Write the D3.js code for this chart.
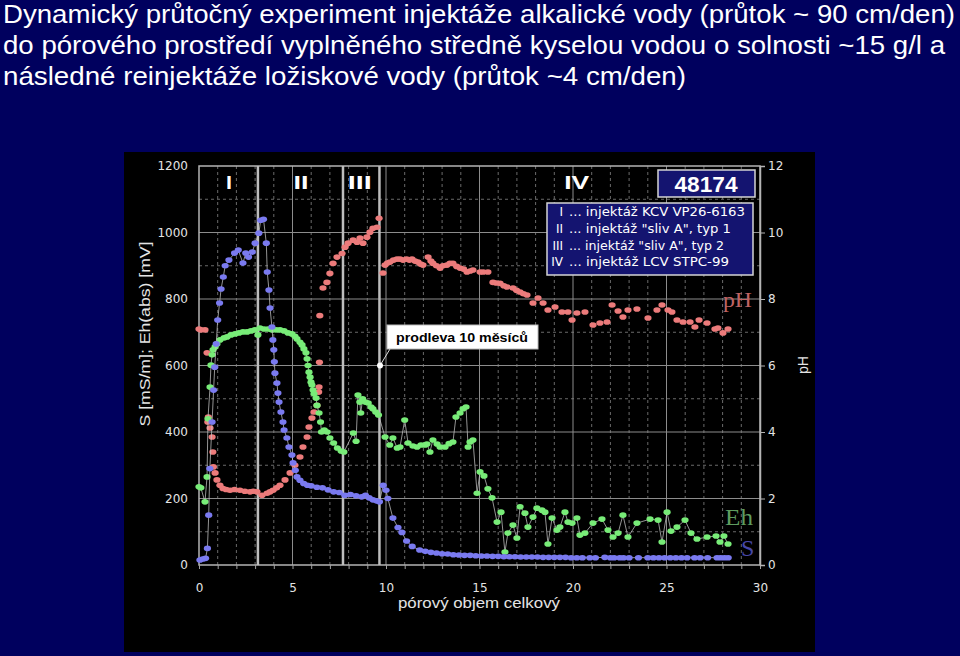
<!DOCTYPE html>
<html><head><meta charset="utf-8">
<script src="https://cdn.jsdelivr.net/npm/d3@7"></script>
<style>body{margin:0;background:#00005e}svg{display:block}</style>
</head><body><svg id="c" width="960" height="656"></svg>
<script>
// ---------- data ----------
const titleLines = [
  "Dynamický průtočný experiment injektáže alkalické vody (průtok ~ 90 cm/den)",
  "do pórového prostředí vyplněného středně kyselou vodou o solnosti ~15 g/l a",
  "následné reinjektáže ložiskové vody (průtok ~4 cm/den)"
];
const xTicks = [0,5,10,15,20,25,30];
const yTicks = [0,200,400,600,800,1000,1200];
const phTicks = [0,2,4,6,8,10,12];
const phaseBounds = [3.15, 7.7, 9.65];
const phaseLabels = ["I","II","III","IV"];
const phaseLabelX = [1.6, 5.45, 8.6, 20.2];
const legendRoman = ["I","II","III","IV"];
const legendText = ["... injektáž KCV VP26-6163", "... injektáž \"sliv A\", typ 1", "... injektáž \"sliv A\", typ 2", "... injektáž LCV STPC-99"];
const sampleId = "48174";
const pauseNote = "prodleva 10 měsíců";
const pausePoint = [9.68, 600];

// S [mS/m] (blue)
const seriesS = [[0.05,15],[0.2,18],[0.35,20],[0.45,50],[0.52,150],[0.58,290],[0.7,430],[0.78,526],[0.84,595],[0.92,665],[1.0,737],[1.1,788],[1.18,830],[1.3,866],[1.4,900],[1.6,917],[1.9,938],[2.1,947],[2.35,908],[2.5,938],[2.65,926],[2.85,941],[3.0,968],[3.2,998],[3.3,1037],[3.45,1040],[3.6,968],[3.65,881],[3.74,827],[3.8,773],[3.9,716],[3.95,677],[4.0,647],[4.03,611],[4.06,577],[4.17,547],[4.22,517],[4.28,490],[4.38,460],[4.49,430],[4.55,406],[4.7,382],[4.81,355],[4.97,331],[5.03,307],[5.15,285],[5.24,265],[5.4,255],[5.6,245],[5.8,240],[6.0,238],[6.3,234],[6.6,232],[6.9,226],[7.2,220],[7.5,218],[7.8,210],[8.1,212],[8.4,208],[8.7,205],[8.9,210],[9.1,202],[9.3,196],[9.5,193],[9.65,190],[9.85,240],[10.0,225],[10.1,200],[10.37,141],[10.64,113],[10.85,98],[11.1,72],[11.4,56],[11.8,45],[12.1,41],[12.4,38],[12.7,36],[13.0,34],[13.3,33],[13.6,31],[13.9,30],[14.2,29],[14.5,29],[14.8,28],[15.1,27],[15.4,27],[15.7,26],[16.0,26],[16.3,25],[16.6,25],[16.9,25],[17.2,24],[17.5,24],[17.8,24],[18.1,24],[18.4,23],[18.7,23],[19.0,23],[19.3,23],[19.6,23],[19.9,22],[20.2,22],[20.5,22],[20.9,22],[21.2,22],[21.7,23],[22.0,22],[22.2,22],[22.5,22],[22.7,22],[23.0,22],[23.5,22],[24.0,22],[24.3,22],[24.6,22],[24.9,22],[25.2,22],[25.5,22],[25.8,22],[26.1,22],[26.5,22],[26.8,22],[27.2,22],[27.7,22],[27.9,22],[28.1,22],[28.3,22]];

// Eh(abs) [mV] (green)
const seriesEh = [[0.0,235],[0.1,232],[0.32,190],[0.43,265],[0.48,440],[0.59,535],[0.64,601],[0.7,632],[0.75,647],[0.86,656],[0.96,665],[1.12,677],[1.34,683],[1.5,686],[1.71,692],[1.93,695],[2.14,698],[2.35,701],[2.57,701],[2.78,704],[2.99,707],[3.15,692],[3.26,713],[3.48,710],[3.69,710],[3.9,707],[4.12,707],[4.33,707],[4.55,704],[4.76,698],[4.97,695],[5.13,688],[5.24,680],[5.4,670],[5.51,662],[5.61,650],[5.72,638],[5.78,620],[5.83,600],[5.88,580],[5.94,565],[5.99,550],[6.04,541],[6.1,526],[6.15,515],[6.26,502],[6.31,480],[6.42,457],[6.5,430],[6.55,400],[6.7,406],[6.85,400],[7.0,382],[7.2,367],[7.4,352],[7.6,343],[7.75,340],[8.25,397],[8.4,372],[8.5,511],[8.6,490],[8.65,457],[8.75,500],[8.9,490],[9.05,487],[9.2,475],[9.3,470],[9.45,460],[9.6,451],[9.95,385],[10.2,361],[10.37,382],[10.6,352],[10.75,355],[11.0,436],[11.18,367],[11.44,358],[11.66,355],[11.87,361],[12.09,361],[12.19,364],[12.35,340],[12.51,376],[12.73,364],[12.89,355],[13.16,355],[13.37,365],[13.58,370],[13.74,445],[13.96,457],[14.12,470],[14.28,475],[14.39,355],[14.49,370],[14.65,376],[14.87,216],[15.03,280],[15.24,268],[15.45,229],[15.67,202],[15.94,129],[16.15,159],[16.36,39],[16.52,96],[16.79,120],[17.0,81],[17.17,175],[17.43,156],[17.59,114],[17.86,144],[18.07,171],[18.34,165],[18.5,159],[18.66,63],[18.88,141],[19.14,105],[19.3,114],[19.57,159],[19.73,129],[19.95,126],[20.21,141],[20.37,90],[20.64,96],[21.07,126],[21.55,138],[21.87,105],[22.14,84],[22.41,96],[22.67,150],[22.94,84],[23.42,126],[24.12,138],[24.55,135],[24.76,69],[25.03,159],[25.24,102],[25.56,114],[25.99,135],[26.31,96],[26.63,78],[27.17,84],[27.65,87],[27.86,69],[28.07,87],[28.29,63]];

// pH (red, right axis)
const seriesPH = [[0.0,7.1],[0.1,7.07],[0.32,7.07],[0.43,6.38],[0.47,4.3],[0.5,4.45],[0.59,4.12],[0.7,3.85],[0.74,3.4],[0.77,2.95],[0.86,2.77],[0.96,2.56],[1.12,2.4],[1.28,2.3],[1.45,2.27],[1.66,2.25],[1.9,2.27],[2.19,2.25],[2.45,2.22],[2.73,2.2],[2.9,2.22],[3.1,2.2],[3.37,2.1],[3.64,2.16],[3.8,2.2],[3.96,2.25],[4.15,2.32],[4.33,2.4],[4.6,2.56],[4.87,2.77],[5.13,3.0],[5.4,3.25],[5.56,3.55],[5.78,3.85],[5.88,4.15],[6.04,4.42],[6.15,4.6],[6.31,4.8],[6.4,5.2],[6.42,5.35],[6.44,6.1],[6.46,7.5],[6.63,8.33],[6.84,8.5],[7.0,8.77],[7.17,9.07],[7.38,9.26],[7.65,9.37],[7.81,9.56],[7.97,9.68],[8.24,9.77],[8.45,9.71],[8.61,9.83],[8.77,9.68],[8.98,9.86],[9.14,10.01],[9.3,10.13],[9.52,10.16],[9.63,10.43],[9.84,8.78],[9.95,9.02],[10.08,9.08],[10.21,9.11],[10.4,9.17],[10.59,9.2],[10.75,9.2],[10.91,9.17],[11.1,9.2],[11.25,9.17],[11.39,9.2],[11.55,9.14],[11.71,9.11],[11.85,9.05],[11.98,9.02],[12.25,9.26],[12.4,9.14],[12.51,9.07],[12.7,9.0],[12.89,8.93],[13.05,9.0],[13.26,9.02],[13.42,9.07],[13.58,9.07],[13.78,8.98],[13.96,8.93],[14.15,8.9],[14.33,8.81],[14.5,8.84],[14.65,8.87],[15.03,8.81],[15.2,8.81],[15.45,8.81],[15.72,8.5],[15.9,8.48],[16.1,8.47],[16.3,8.4],[16.47,8.36],[16.79,8.33],[16.98,8.26],[17.17,8.21],[17.35,8.16],[17.54,8.12],[17.86,7.88],[18.13,8.03],[18.4,7.88],[18.66,7.67],[19.04,7.76],[19.41,7.61],[19.73,7.61],[19.95,7.37],[20.21,7.58],[20.64,7.61],[21.07,7.22],[21.44,7.28],[21.82,7.31],[22.09,7.82],[22.41,7.64],[22.67,7.46],[22.94,7.67],[23.42,7.7],[24.01,7.43],[24.49,7.67],[24.76,7.82],[25.08,7.67],[25.29,7.61],[25.56,7.37],[25.88,7.31],[26.26,7.31],[26.52,7.16],[26.74,7.37],[27.17,7.28],[27.59,7.1],[27.75,7.13],[28.02,6.98],[28.29,7.1]];

// ---------- drawing ----------
const svg = d3.select("#c");
svg.append("rect").attr("width",960).attr("height",656).attr("fill","#00005e");

const titleBase = [22.5, 53.8, 84.6];
const titleLen = [952, 942, 683];
svg.selectAll("text.title").data(titleLines).join("text")
  .attr("class","title").attr("x",3).attr("y",(d,i)=>titleBase[i])
  .attr("textLength",(d,i)=>titleLen[i]).attr("lengthAdjust","spacingAndGlyphs")
  .attr("font-family","'Liberation Sans', Arial, sans-serif").attr("font-size",25)
  .attr("fill","#ffffff").text(d=>d);

svg.append("rect").attr("x",124).attr("y",152).attr("width",691).attr("height",500).attr("fill","#000");

const x = d3.scaleLinear().domain([0,30]).range([199,760]);
const y = d3.scaleLinear().domain([0,1200]).range([565,166]);
const yPh = d3.scaleLinear().domain([0,12]).range([565,166]);

const g = svg.append("g");
// minor grid
g.selectAll("line.vmin").data(d3.range(1,30).filter(v=>v%5)).join("line")
  .attr("x1",d=>x(d)).attr("x2",d=>x(d)).attr("y1",y(0)).attr("y2",y(1200))
  .attr("stroke","#6a6a6a").attr("stroke-dasharray","3,3");
g.selectAll("line.hmin").data(d3.range(100,1200,200)).join("line")
  .attr("y1",d=>y(d)).attr("y2",d=>y(d)).attr("x1",x(0)).attr("x2",x(30))
  .attr("stroke","#6a6a6a").attr("stroke-dasharray","3,3");
// major grid
g.selectAll("line.vmaj").data([5,10,15,20,25]).join("line")
  .attr("x1",d=>x(d)).attr("x2",d=>x(d)).attr("y1",y(0)).attr("y2",y(1200))
  .attr("stroke","#8c8c8c");
g.selectAll("line.hmaj").data([200,400,600,800,1000]).join("line")
  .attr("y1",d=>y(d)).attr("y2",d=>y(d)).attr("x1",x(0)).attr("x2",x(30))
  .attr("stroke","#8c8c8c");
g.append("rect").attr("x",x(0)).attr("y",y(1200)).attr("width",x(30)-x(0)).attr("height",y(0)-y(1200))
  .attr("fill","none").attr("stroke","#b4b4b4").attr("stroke-width",1.5);
// phase separators
g.selectAll("line.sep").data(phaseBounds).join("line")
  .attr("x1",d=>x(d)).attr("x2",d=>x(d)).attr("y1",y(0)).attr("y2",y(1200))
  .attr("stroke","#bdbdbd").attr("stroke-width",2.5);

// axes
const tickFont = "'DejaVu Sans', sans-serif";
const ax = g.append("g").attr("transform",`translate(${x(0)},0)`)
  .call(d3.axisLeft(y).tickValues(yTicks).tickFormat(d3.format("d")).tickSize(0).tickPadding(11));
ax.select(".domain").remove();
ax.selectAll("text").attr("font-family",tickFont).attr("font-size",12).attr("fill","#e4e4e4");

const bx = g.append("g").attr("transform",`translate(0,${y(0)})`)
  .call(d3.axisBottom(x).tickValues(xTicks).tickFormat(d3.format("d")).tickSize(0).tickPadding(18));
bx.select(".domain").remove();
bx.selectAll("text").attr("font-family",tickFont).attr("font-size",12).attr("fill","#e4e4e4");

const mx = g.append("g").attr("transform",`translate(0,${y(0)})`)
  .call(d3.axisBottom(x).tickValues(d3.range(0,31,1)).tickSize(4).tickFormat(""));
mx.select(".domain").remove();
mx.selectAll("line").attr("stroke","#a0a0a0");

const rx = g.append("g").attr("transform",`translate(${x(30)},0)`)
  .call(d3.axisRight(yPh).tickValues(phTicks).tickFormat(d3.format("d")).tickSize(5).tickPadding(3));
rx.select(".domain").attr("stroke","#b4b4b4").attr("stroke-width",1.5);
rx.selectAll("line").attr("stroke","#b4b4b4");
rx.selectAll("text").attr("font-family",tickFont).attr("font-size",12).attr("fill","#e4e4e4");

// axis titles
svg.append("text").attr("x",479).attr("y",608).attr("text-anchor","middle")
  .attr("font-family","'Liberation Sans', Arial, sans-serif").attr("font-size",14)
  .attr("textLength",162).attr("lengthAdjust","spacingAndGlyphs")
  .attr("fill","#e4e4e4").text("pórový objem celkový");
svg.append("text").attr("transform","translate(150,334) rotate(-90)").attr("text-anchor","middle")
  .attr("font-family","'Liberation Sans', Arial, sans-serif").attr("font-size",15)
  .attr("textLength",185).attr("lengthAdjust","spacingAndGlyphs")
  .attr("fill","#e4e4e4").text("S [mS/m]; Eh(abs) [mV]");
svg.append("text").attr("transform","translate(808,365) rotate(-90)").attr("text-anchor","middle")
  .attr("font-family","'Liberation Sans', Arial, sans-serif").attr("font-size",14)
  .attr("fill","#e4e4e4").text("pH");

// phase labels
const plLen = [6,15,24,25];
g.selectAll("text.phase").data(phaseLabels).join("text")
  .attr("x",(d,i)=>x(phaseLabelX[i])).attr("y",189).attr("text-anchor","middle")
  .attr("font-family","'Liberation Sans', Arial, sans-serif").attr("font-weight","bold").attr("font-size",18)
  .attr("textLength",(d,i)=>plLen[i]).attr("lengthAdjust","spacingAndGlyphs")
  .attr("fill","#fff").text(d=>d);

// series
const line = d3.line().x(d=>x(d[0])).y(d=>y(d[1]));
function drawSeries(data, gen, yy, col, withLine){
  if (withLine) g.append("path").datum(data).attr("d",gen).attr("fill","none")
    .attr("stroke","#c4c4c4").attr("stroke-opacity",0.75).attr("stroke-width",1);
  g.append("g").selectAll("ellipse").data(data).join("ellipse")
    .attr("cx",d=>x(d[0])).attr("cy",d=>yy(d[1])).attr("rx",3.6).attr("ry",2.8)
    .attr("fill",col);
}
drawSeries(seriesPH, null, yPh, "#ec7b7b", false);
drawSeries(seriesEh, line, y, "#78ec78", true);
drawSeries(seriesS, line, y, "#7a7af0", true);

// pause note
const px = x(pausePoint[0]), py = y(pausePoint[1]);
g.append("line").attr("x1",px).attr("y1",py).attr("x2",390).attr("y2",349).attr("stroke","#ddd").attr("stroke-width",1);
g.append("circle").attr("cx",px).attr("cy",py).attr("r",3).attr("fill","#fff");
g.append("rect").attr("x",387).attr("y",325).attr("width",151).attr("height",24)
  .attr("fill","#fff").attr("stroke","#bbb");
g.append("text").attr("x",462).attr("y",342).attr("text-anchor","middle")
  .attr("font-family","'Liberation Sans', Arial, sans-serif").attr("font-weight","bold").attr("font-size",13)
  .attr("textLength",132).attr("lengthAdjust","spacingAndGlyphs").attr("fill","#000").text(pauseNote);

// id box
g.append("rect").attr("x",658).attr("y",170).attr("width",97).attr("height",27)
  .attr("fill","#141470").attr("stroke","#d4d4d4").attr("stroke-width",1.5);
g.append("text").attr("x",706).attr("y",192).attr("text-anchor","middle")
  .attr("font-family","'Liberation Sans', Arial, sans-serif").attr("font-weight","bold").attr("font-size",22)
  .attr("textLength",63).attr("lengthAdjust","spacingAndGlyphs").attr("fill","#fff").text(sampleId);

// legend box
g.append("rect").attr("x",547).attr("y",203).attr("width",206).attr("height",72)
  .attr("fill","#141470").attr("stroke","#d4d4d4").attr("stroke-width",1.5);
const lgBase = [216,233,250,266];
const lgLen = [176,162,155,160];
g.selectAll("text.lgr").data(legendRoman).join("text")
  .attr("x",563).attr("y",(d,i)=>lgBase[i]).attr("text-anchor","end")
  .attr("font-family",tickFont).attr("font-size",12).attr("fill","#fff").text(d=>d);
g.selectAll("text.lgt").data(legendText).join("text")
  .attr("x",569).attr("y",(d,i)=>lgBase[i])
  .attr("font-family",tickFont).attr("font-size",12)
  .attr("textLength",(d,i)=>lgLen[i]).attr("lengthAdjust","spacingAndGlyphs")
  .attr("fill","#fff").text(d=>d);

// series name labels
const serif = "'Liberation Serif', 'Times New Roman', serif";
g.append("text").attr("x",723).attr("y",307).attr("font-family",serif).attr("font-size",21)
  .attr("textLength",29).attr("lengthAdjust","spacingAndGlyphs").attr("fill","#c06464").text("pH");
g.append("text").attr("x",725).attr("y",525).attr("font-family",serif).attr("font-size",24)
  .attr("textLength",28).attr("lengthAdjust","spacingAndGlyphs").attr("fill","#5f9c5f").text("Eh");
g.append("text").attr("x",741).attr("y",556).attr("font-family",serif).attr("font-size",24)
  .attr("fill","#4848a8").text("S");
</script></body></html>
